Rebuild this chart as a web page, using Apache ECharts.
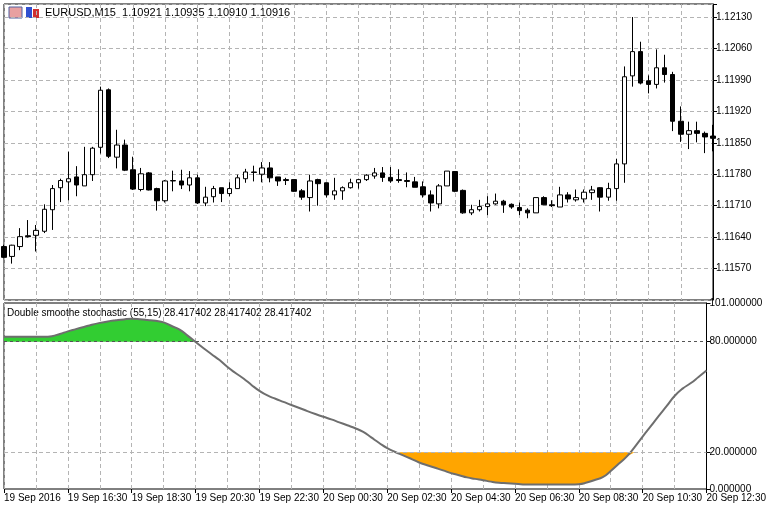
<!DOCTYPE html>
<html lang="en">
<head>
<meta charset="UTF-8">
<title>EURUSD M15</title>
<style>html,body{margin:0;padding:0;background:#fff}</style>
</head>
<body>
<div id="main" style="width:769px;height:509px;"></div>
<script src="https://cdn.jsdelivr.net/npm/echarts@6/dist/echarts.min.js"></script>
<script>
// OHLC in 1e-5 price units, one row per M15 bar (open, close, low, high)
var opens  = [111619,111597,111619,111643,111644,111653,111701,111750,111763,111774,111754,111779,111840,111968,111818,111845,111790,111746,111783,111748,111721,111765,111765,111756,111772,111716,111730,111750,111737,111748,111770,111785,111780,111794,111774,111768,111768,111743,111728,111768,111761,111734,111743,111750,111761,111768,111776,111783,111773,111768,111766,111763,111752,111734,111714,111754,111786,111744,111694,111701,111708,111714,111720,111713,111706,111700,111694,111728,111712,111707,111734,111723,111725,111739,111750,111729,111748,111803,111999,112053,111988,111980,112017,112002,111898,111869,111877,111871,111865];
var closes = [111595,111622,111641,111641,111655,111702,111748,111766,111770,111756,111779,111838,111967,111820,111845,111789,111747,111781,111745,111721,111765,111766,111756,111772,111716,111729,111748,111737,111748,111772,111785,111784,111794,111772,111765,111766,111742,111729,111765,111759,111734,111743,111750,111761,111768,111778,111783,111773,111765,111766,111764,111751,111734,111716,111754,111787,111742,111694,111701,111708,111714,111720,111712,111707,111699,111694,111728,111712,111710,111734,111725,111728,111740,111745,111729,111748,111803,111997,112053,111983,111980,112017,112002,111898,111869,111877,111871,111863,111860];
var lows   = [111593,111581,111611,111639,111608,111649,111656,111718,111722,111731,111754,111765,111826,111816,111793,111787,111745,111742,111744,111699,111717,111742,111747,111742,111714,111709,111717,111718,111731,111748,111761,111764,111762,111762,111754,111756,111741,111723,111697,111710,111728,111723,111723,111748,111748,111765,111770,111763,111761,111761,111751,111751,111728,111697,111704,111754,111740,111692,111689,111697,111689,111712,111694,111703,111689,111682,111694,111712,111707,111707,111717,111719,111717,111723,111697,111721,111721,111761,111975,111980,111960,111971,111984,111876,111852,111836,111851,111827,111831];
var highs  = [111623,111623,111660,111678,111667,111713,111756,111770,111830,111798,111841,111841,111975,111971,111879,111857,111819,111794,111785,111750,111767,111788,111790,111787,111779,111752,111754,111750,111762,111779,111792,111799,111807,111807,111774,111772,111768,111747,111779,111770,111761,111772,111753,111770,111770,111780,111794,111796,111796,111791,111784,111774,111764,111744,111758,111787,111787,111746,111712,111723,111731,111737,111723,111715,111717,111704,111728,111731,111722,111752,111740,111746,111746,111754,111751,111761,111814,112020,112130,112075,112000,112058,112046,112008,111931,111897,111897,111875,111890];

// Double smoothed stochastic (55,15)
var dss = [82.7,82.7,82.7,82.7,82.7,82.7,83,84.2,85.6,86.8,88,89.2,90.2,91,91.6,92.1,92.4,92.2,91.8,91.3,90.5,88.5,86.5,83.3,79.8,76.4,73.2,70,66.2,63,60,56.5,53.3,50.8,49,47.3,45.6,44,42.3,40.7,39.2,37.8,36.2,34.6,33,31,28,25,22.2,20.1,18.3,16.4,14.4,12.9,11.5,10.1,8.6,7.5,6.3,5.5,4.8,4,3.4,3.1,2.8,2.5,2.4,2.4,2.4,2.4,2.4,2.4,2.6,3.5,4.9,6.4,9.8,13.7,17.6,22.8,28.5,34,39.6,45,50.5,54.5,57.4,60.8,64.3];

// labels every 8 bars
var tickLabels = ['19 Sep 2016','19 Sep 16:30','19 Sep 18:30','19 Sep 20:30','19 Sep 22:30','20 Sep 00:30','20 Sep 02:30','20 Sep 04:30','20 Sep 06:30','20 Sep 08:30','20 Sep 10:30','20 Sep 12:30'];
var priceTicks = [1.11570,1.11640,1.11710,1.11780,1.11850,1.11920,1.11990,1.12060,1.12130];
var dssTicks = [0,1,20,80,101];

var cats = [];
for (var i = 0; i < opens.length; i++) cats.push(i);

var candles = [];
for (var i = 0; i < opens.length; i++) {
	candles.push([opens[i] / 1e5, closes[i] / 1e5, lows[i] / 1e5, highs[i] / 1e5]);
}
var greenBase = [], greenFill = [], orangeBase = [], orangeFill = [];
for (var i = 0; i < dss.length; i++) {
	greenBase.push(80);
	greenFill.push(Math.max(dss[i] - 80, 0));
	orangeBase.push(Math.min(dss[i], 20));
	orangeFill.push(Math.max(20 - dss[i], 0));
}

var font = 'Liberation Sans';
var dashGrid = { show: true, lineStyle: { color: '#b4b4b4', type: [4, 3], width: 1 } };

var myChart = echarts.init(document.getElementById('main'));
var option = {
	animation: false,
	backgroundColor: '#fff',
	textStyle: { fontFamily: font },
	graphic: [
		{ type: 'rect', shape: { x: 9, y: 7, width: 13, height: 11 }, style: { fill: '#e8a0a0', stroke: '#5060a0' } },
		{ type: 'rect', shape: { x: 26, y: 7, width: 6, height: 11 }, style: { fill: '#3050d0' } },
		{ type: 'rect', shape: { x: 33, y: 9, width: 6, height: 9 }, style: { fill: '#d03030' } },
		{ type: 'text', left: 45, top: 7, style: { text: 'EURUSD,M15  1.10921 1.10935 1.10910 1.10916', fill: '#000', font: '11px ' + font } },
		{ type: 'text', left: 7, top: 308, style: { text: 'Double smoothe stochastic (55,15) 28.417402 28.417402 28.417402', fill: '#000', font: '10px ' + font } }
	],
	grid: [
		{ left: 4, right: 56, top: 4, height: 296, show: true, borderColor: '#000', borderWidth: 1 },
		{ left: 4, right: 56, top: 303, height: 186, show: true, borderColor: '#000', borderWidth: 1 }
	],
	xAxis: [
		{
			type: 'category', data: cats, gridIndex: 0, boundaryGap: false,
			axisLine: { show: false }, axisTick: { show: false }, axisLabel: { show: false },
			splitLine: { show: true, interval: 3, lineStyle: dashGrid.lineStyle }
		},
		{
			type: 'category', data: cats, gridIndex: 1, boundaryGap: false,
			axisLine: { show: false },
			axisTick: { show: true, interval: 7, length: 4, lineStyle: { color: '#000' } },
			axisLabel: {
				interval: 7, align: 'left', color: '#000', fontSize: 10, margin: 4,
				formatter: function (v, idx) { return tickLabels[idx / 8] || ''; }
			},
			splitLine: { show: true, interval: 3, lineStyle: dashGrid.lineStyle }
		}
	],
	yAxis: [
		{
			type: 'value', gridIndex: 0, position: 'right', min: 1.11500, max: 1.12159, interval: 0.0007,
			axisLine: { show: true, lineStyle: { color: '#000' } },
			axisTick: { show: true, length: 4, lineStyle: { color: '#000' } },
			axisLabel: {
				color: '#000', fontSize: 10, margin: 3, showMinLabel: false,
				formatter: function (v) { return priceTicks.some(function (p) { return Math.abs(p - v) < 1e-7; }) ? v.toFixed(5) : ''; }
			},
			splitLine: dashGrid
		},
		{
			type: 'value', gridIndex: 1, position: 'right', min: 0, max: 101,
			axisLine: { show: true, lineStyle: { color: '#000' } },
			axisTick: { show: true, length: 4, customValues: dssTicks, lineStyle: { color: '#000' } },
			axisLabel: {
				color: '#000', fontSize: 10, margin: 3, customValues: dssTicks, hideOverlap: false,
				showMinLabel: true, showMaxLabel: true,
				formatter: function (v) { return v.toFixed(6); },
				rich: {}
			},
			splitLine: { show: false }
		}
	],
	series: [
		{
			type: 'candlestick', xAxisIndex: 0, yAxisIndex: 0, data: candles, barWidth: 5,
			itemStyle: { color: '#fff', color0: '#000', borderColor: '#000', borderColor0: '#000', borderWidth: 1 }
		},
		{ type: 'line', xAxisIndex: 1, yAxisIndex: 1, stack: 'g', data: greenBase, symbol: 'none', lineStyle: { width: 0 }, areaStyle: { opacity: 0 } },
		{ type: 'line', xAxisIndex: 1, yAxisIndex: 1, stack: 'g', data: greenFill, symbol: 'none', lineStyle: { width: 0 }, areaStyle: { color: '#32cd32', opacity: 1 } },
		{ type: 'line', xAxisIndex: 1, yAxisIndex: 1, stack: 'o', data: orangeBase, symbol: 'none', lineStyle: { width: 0 }, areaStyle: { opacity: 0 } },
		{ type: 'line', xAxisIndex: 1, yAxisIndex: 1, stack: 'o', data: orangeFill, symbol: 'none', lineStyle: { width: 0 }, areaStyle: { color: '#ffa500', opacity: 1 } },
		{
			type: 'line', xAxisIndex: 1, yAxisIndex: 1, data: dss, symbol: 'none', smooth: true,
			lineStyle: { color: '#6e6e6e', width: 2 },
			markLine: {
				silent: true, symbol: 'none', label: { show: false },
				data: [
					{ yAxis: 80, lineStyle: { color: '#555', type: [3, 3], width: 1 } },
					{ yAxis: 20, lineStyle: { color: '#b4b4b4', type: [4, 3], width: 1 } }
				]
			}
		}
	]
};
myChart.setOption(option);
</script>
</body>
</html>
